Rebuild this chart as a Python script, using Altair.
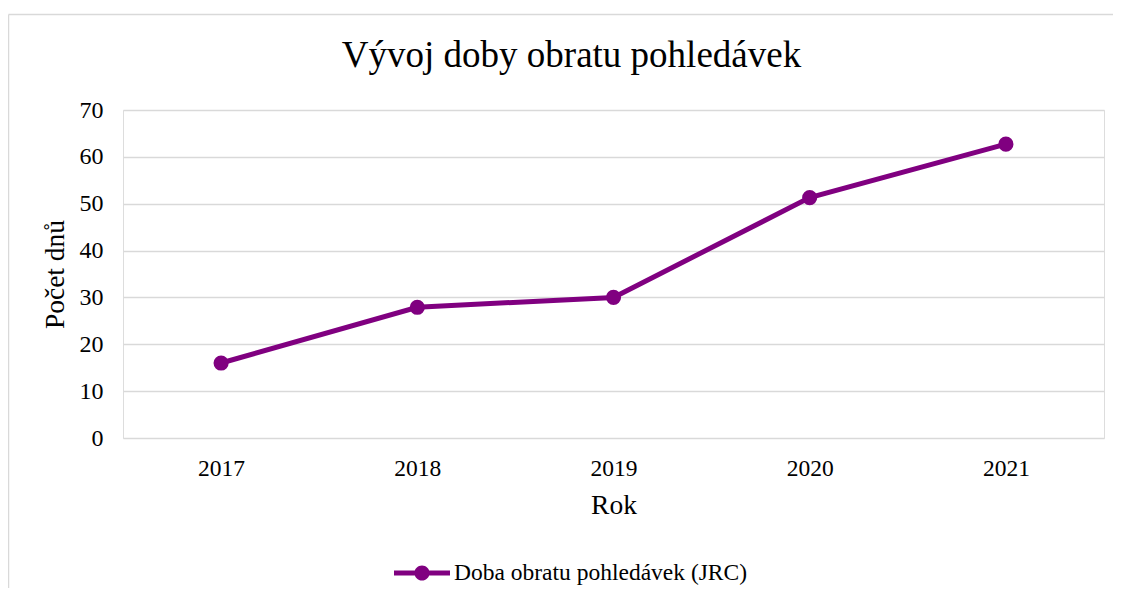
import altair as alt
import pandas as pd

years = ["2017", "2018", "2019", "2020", "2021"]
values = [16.0, 27.9, 30.0, 51.3, 62.7]
series = "Doba obratu pohledávek (JRC)"

df = pd.DataFrame({"Rok": years, "Počet dnů": values, "Série": [series] * len(years)})

FONT = "Liberation Serif"
PURPLE = "#800080"
GRID = "#d9d9d9"

legend_path = (
    "M-1,-0.09 L-0.2,-0.09 L-0.2,0.09 L-1,0.09 Z "
    "M0.2,-0.09 L1,-0.09 L1,0.09 L0.2,0.09 Z "
    "M-0.27,0 A0.27,0.27 0 1,1 0.27,0 A0.27,0.27 0 1,1 -0.27,0 Z"
)

line = alt.Chart(df).mark_line(
    strokeWidth=5,
    point=alt.OverlayMarkDef(size=230, filled=True, opacity=1, color=PURPLE),
).encode(
    x=alt.X(
        "Rok:O",
        sort=years,
        scale=alt.Scale(type="point", padding=0.5),
        axis=alt.Axis(
            title="Rok",
            labelAngle=0,
            ticks=False,
            domain=False,
            grid=False,
            labelFont=FONT,
            labelFontSize=23.5,
            labelColor="#000000",
            labelPadding=37,
            labelBaseline="alphabetic",
            titleFont=FONT,
            titleFontSize=27.5,
            titleFontWeight="normal",
            titleColor="#000000",
            titleBaseline="alphabetic",
            titleAnchor="middle",
            titleY=75,
        ),
    ),
    y=alt.Y(
        "Počet dnů:Q",
        scale=alt.Scale(domain=[0, 70], nice=False, zero=True),
        axis=alt.Axis(
            title="Počet dnů",
            values=[0, 10, 20, 30, 40, 50, 60, 70],
            ticks=False,
            domain=False,
            grid=True,
            gridColor=GRID,
            gridWidth=1.5,
            labelFont=FONT,
            labelFontSize=24,
            labelColor="#000000",
            labelPadding=20,
            titleFont=FONT,
            titleFontSize=27.5,
            titleFontWeight="normal",
            titleColor="#000000",
            titleAngle=270,
            titleBaseline="alphabetic",
            titleAlign="center",
            titleX=-60,
            titleY=164,
        ),
    ),
    color=alt.Color(
        "Série:N",
        scale=alt.Scale(range=[PURPLE]),
        legend=alt.Legend(
            title=None,
            orient="none",
            legendX=271,
            legendY=435,
            symbolType=legend_path,
            symbolSize=3136,
            symbolFillColor=PURPLE,
            symbolStrokeWidth=0,
            labelFont=FONT,
            labelFontSize=23.5,
            labelColor="#000000",
            labelOffset=4,
            labelLimit=0,
            padding=0,
        ),
    ),
)

frame_data = pd.DataFrame({"a": [0]})
frame_top = alt.Chart(frame_data).mark_rule(stroke=GRID, strokeWidth=1.5).encode(
    x=alt.value(-114.5),
    x2=alt.value(1030),
    y=alt.value(-95.5),
)
frame_left = alt.Chart(frame_data).mark_rule(stroke=GRID, strokeWidth=1.5).encode(
    x=alt.value(-114.5),
    y=alt.value(-95.5),
    y2=alt.value(540),
)

chart = alt.layer(frame_top, frame_left, line).properties(
    width=981,
    height=328,
    autosize=alt.AutoSizeParams(type="none"),
    padding={"left": 115, "top": 102, "right": 9, "bottom": 150},
    title=alt.TitleParams(
        "Vývoj doby obratu pohledávek",
        font=FONT,
        fontSize=37,
        fontWeight="normal",
        color="#000000",
        anchor="middle",
        frame="group",
        dx=-42,
        baseline="alphabetic",
        offset=-90,
    ),
).configure_view(stroke=None).configure(background="#ffffff")

chart.save("out.html", embed_options={"renderer": "svg", "actions": False})
